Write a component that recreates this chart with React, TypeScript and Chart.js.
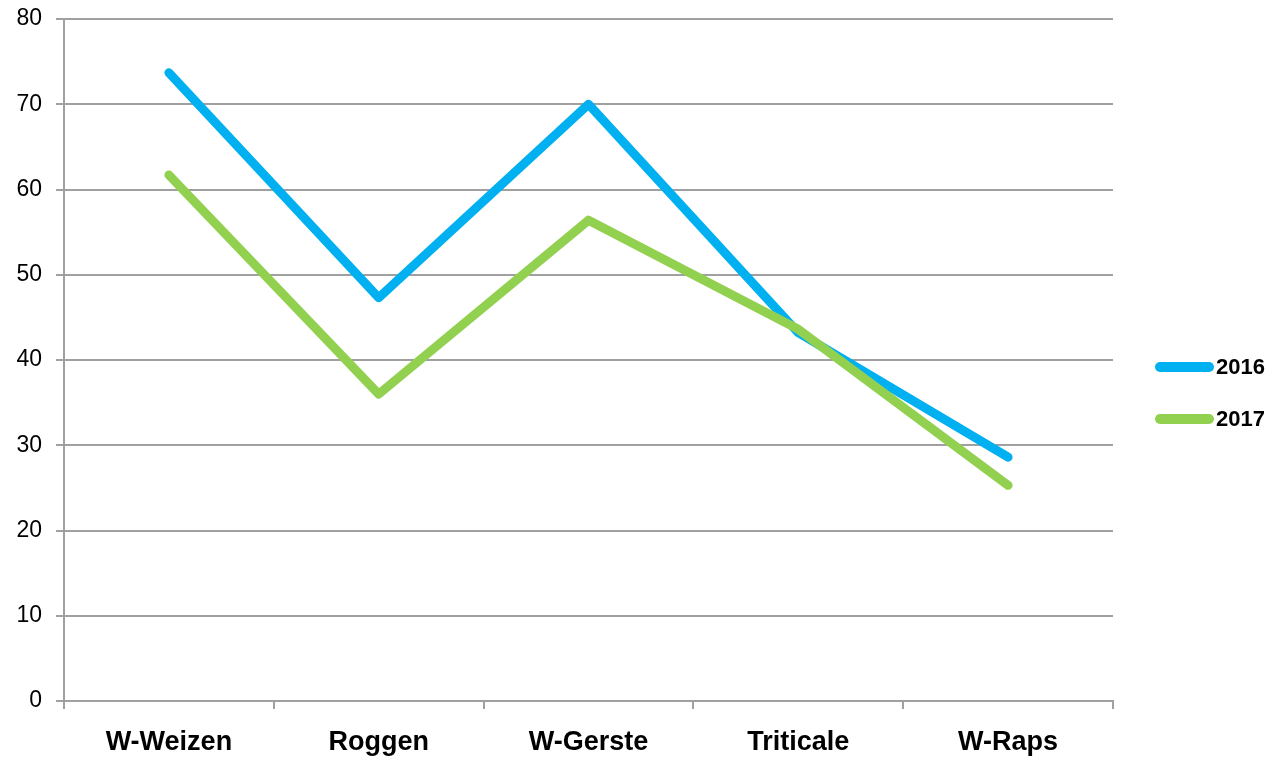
import React, { useEffect, useRef } from "react";
import { Chart, registerables } from "chart.js";

Chart.register(...registerables);

const categories = ["W-Weizen", "Roggen", "W-Gerste", "Triticale", "W-Raps"];
const series2016 = [73.7, 47.3, 70.0, 43.2, 28.6];
const series2017 = [61.7, 36.0, 56.4, 43.6, 25.3];
const seriesLabels = ["2016", "2017"];
const seriesColors = ["#00B0F0", "#92D050"];
const yMin = 0;
const yMax = 80;
const yStep = 10;

const FONT = "'Liberation Sans', Arial, Helvetica, sans-serif";
const GRID = "#a0a0a0";

const legendPlugin = {
  id: "sideLegend",
  afterDraw(chart: any) {
    const ctx = chart.ctx;
    const x0 = 1155;
    const x1 = 1214;
    const yStart = 367;
    const gap = 52;
    chart.data.datasets.forEach((ds: any, i: number) => {
      const y = yStart + i * gap;
      ctx.save();
      ctx.strokeStyle = ds.borderColor;
      ctx.lineWidth = 10;
      ctx.lineCap = "round";
      ctx.beginPath();
      ctx.moveTo(x0 + 5, y);
      ctx.lineTo(x1 - 5, y);
      ctx.stroke();
      ctx.fillStyle = "#000";
      ctx.font = `bold 22px ${FONT}`;
      ctx.textBaseline = "middle";
      ctx.textAlign = "left";
      ctx.fillText(ds.label, x1 + 2, y + 1);
      ctx.restore();
    });
  },
};

export default function App() {
  const ref = useRef<HTMLCanvasElement | null>(null);
  useEffect(() => {
    if (!ref.current) return;
    const common = {
      borderWidth: 9,
      pointRadius: 0,
      borderCapStyle: "round",
      borderJoinStyle: "round",
      tension: 0,
    };
    const chart = new Chart(ref.current, {
      type: "line",
      data: {
        labels: categories,
        datasets: [
          {
            ...common,
            label: seriesLabels[0],
            data: series2016,
            borderColor: seriesColors[0],
            backgroundColor: seriesColors[0],
            order: 2,
          },
          {
            ...common,
            label: seriesLabels[1],
            data: series2017,
            borderColor: seriesColors[1],
            backgroundColor: seriesColors[1],
            order: 1,
          },
        ] as any,
      },
      options: {
        responsive: false,
        animation: false,
        devicePixelRatio: 1,
        layout: { padding: { left: 0, right: 155, top: 19, bottom: 0 } },
        plugins: {
          legend: { display: false },
          tooltip: { enabled: false },
        },
        scales: {
          x: {
            offset: true,
            grid: {
              offset: true,
              drawOnChartArea: false,
              drawTicks: true,
              tickLength: 8,
              color: GRID,
              lineWidth: 2,
            },
            border: { color: GRID, width: 2 },
            ticks: {
              color: "#000",
              font: { family: FONT, size: 27, weight: "bold" },
              padding: 17,
              maxRotation: 0,
            },
            afterFit(scale: any) {
              scale.height = 57;
              scale.paddingLeft = 0;
              scale.paddingRight = 0;
            },
          },
          y: {
            min: yMin,
            max: yMax,
            grid: {
              color: GRID,
              lineWidth: 2,
              drawTicks: true,
              tickLength: 8,
            },
            border: { color: GRID, width: 2 },
            ticks: {
              stepSize: yStep,
              color: "#000",
              font: { family: FONT, size: 23 },
              padding: 14,
            },
            afterFit(scale: any) {
              scale.width = 64;
              scale.paddingTop = 0;
              scale.paddingBottom = 0;
            },
          },
        },
      },
      plugins: [legendPlugin],
    });
    return () => chart.destroy();
  }, []);
  return (
    <div style={{ position: "fixed", left: 0, top: 0, width: 1268, height: 758, background: "#fff" }}>
      <canvas ref={ref} width={1268} height={758} style={{ width: 1268, height: 758, display: "block" }} />
    </div>
  );
}
